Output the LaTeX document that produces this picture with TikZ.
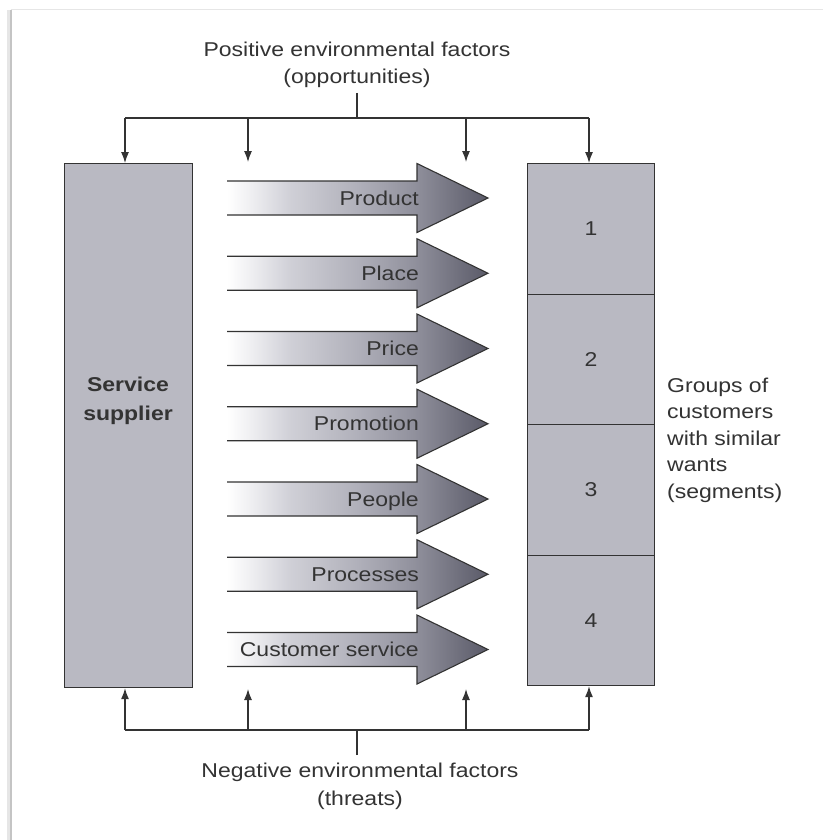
\documentclass[tikz,border=0pt]{standalone}
\usepackage{fontspec}
\setmainfont{Liberation Sans}[FakeStretch=1.15]
\usetikzlibrary{arrows.meta}

\definecolor{ink}{HTML}{333333}
\definecolor{boxgrey}{HTML}{B9B9C2}
\definecolor{edgegrey}{HTML}{C4C4C4}
\definecolor{rimgrey}{HTML}{E6E6E6}
\definecolor{shA}{HTML}{EDEDF0}
\definecolor{shB}{HTML}{D0D0D7}
\definecolor{shC}{HTML}{B0B0BA}
\definecolor{shD}{HTML}{90909C}
\definecolor{shE}{HTML}{5A5A68}

% fill of the marketing-mix arrows: white tail, dark head
\pgfdeclarehorizontalshading{mixshade}{100bp}{color(0bp)=(white); color(25bp)=(white); color(30bp)=(shA); color(37bp)=(shB); color(50bp)=(shC); color(61bp)=(shD); color(75bp)=(shE); color(100bp)=(shE)}

\tikzset{
  wire/.style={draw=ink, line width=1.2pt},
  feed/.style={wire, -{Latex[length=11pt,width=8pt]}},
  panel/.style={draw=ink, line width=1.2pt, fill=boxgrey, inner sep=0pt},
  mixedge/.style={draw=ink, line width=1.1pt, line join=miter},
  lbl/.style={text=ink, inner sep=0pt},
}

\begin{document}
\begin{tikzpicture}[x=1pt, y=-1pt, font=\fontsize{20}{26.5}\selectfont]
\useasboundingbox (0,0) rectangle (823,840);
\fill[white] (0,0) rectangle (823,840);
% page edge
\draw[rimgrey, line width=1pt] (11,10) -- (823,10);
\draw[rimgrey, line width=4pt] (9,10) -- (9,840);
\draw[edgegrey, line width=1.6pt] (11,10) -- (11,840);

% service supplier
\node[panel, minimum width=128pt, minimum height=524pt, anchor=north west] (supplier) at (64,163) {};
\node[lbl, font=\fontsize{20}{29}\selectfont\bfseries, align=center] (supname) at (128,401) {Service\\supplier};

% customer segments
\foreach \n/\y in {1/163, 2/293.5, 3/424, 4/554.5}
  \node[panel, minimum width=127pt, minimum height=130.5pt, anchor=north west, text=ink] (seg\n) at (527,\y) {\n};

% the base anchor sits on the last line
\node[lbl, align=left, anchor=base west] (groups) at (667,498) {Groups of\\customers\\with similar\\wants\\(segments)};

% marketing-mix arrows
\foreach \c/\t [count=\i] in {198/Product, 273.25/Place, 348.5/Price, 423.75/Promotion, 499/People, 574.25/Processes, 649.5/Customer service} {
  \shade[shading=mixshade] (227,\c-17) -- (417,\c-17) -- (417,\c-34.5) -- (488,\c) -- (417,\c+34.5) -- (417,\c+17) -- (227,\c+17) -- cycle;
  \draw[mixedge] (227,\c-17) -- (417,\c-17) -- (417,\c-34.5) -- (488,\c) -- (417,\c+34.5) -- (417,\c+17) -- (227,\c+17);
  \node[lbl, anchor=base east] (mix\i) at (419,\c+7) {\t};
}

% opportunities
\node[lbl, anchor=base] (pos1) at (357,57) {Positive environmental factors};
\node[lbl, anchor=base] (pos2) at (357,84) {(opportunities)};
\coordinate (tstem) at (357,93);
\coordinate (thub) at (357,118);
\coordinate (tl) at (125,118);
\coordinate (ta) at (248,118);
\coordinate (tb) at (466,118);
\coordinate (tr) at (589,118);
\coordinate (tae) at (248,162);
\coordinate (tbe) at (466,162);
\draw[wire] (tstem) -- (thub);
\draw[wire] (tl) -- (tr);
\draw[feed] (tl) -- (tl |- supplier.north);
\draw[feed] (ta) -- (tae);
\draw[feed] (tb) -- (tbe);
\draw[feed] (tr) -- (tr |- seg1.north);

% threats
\node[lbl, anchor=base] (neg1) at (360,777) {Negative environmental factors};
\node[lbl, anchor=base] (neg2) at (360,805) {(threats)};
\coordinate (bstem) at (357,755);
\coordinate (bhub) at (357,730);
\coordinate (bl) at (125,730);
\coordinate (ba) at (248,730);
\coordinate (bb) at (466,730);
\coordinate (br) at (589,730);
\coordinate (bae) at (248,689);
\coordinate (bbe) at (466,689);
\draw[wire] (bstem) -- (bhub);
\draw[wire] (bl) -- (br);
\draw[feed] (bl) -- (bl |- supplier.south);
\draw[feed] (ba) -- (bae);
\draw[feed] (bb) -- (bbe);
\draw[feed] (br) -- (br |- seg4.south);
\end{tikzpicture}
\end{document}
